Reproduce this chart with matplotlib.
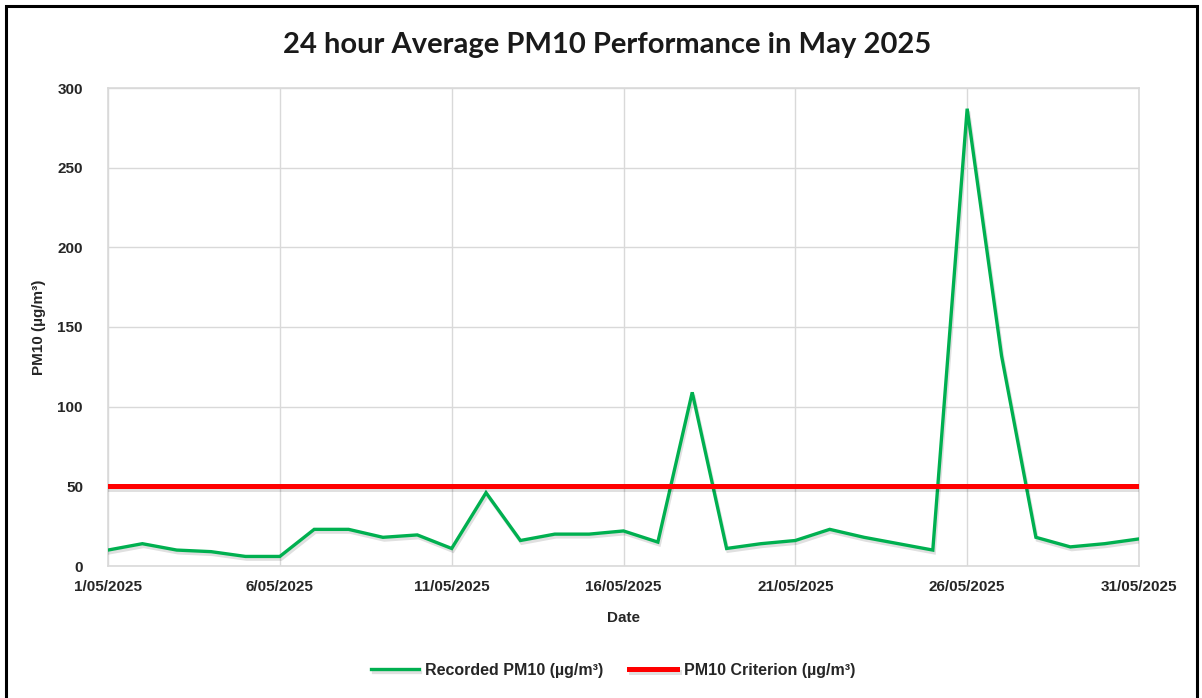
import numpy as np
from matplotlib import pyplot as plt
from matplotlib import dates as mdates
from matplotlib import patheffects as pe
from matplotlib.patches import Rectangle

days = list(range(1, 32))
recorded_pm10 = [10, 14, 10, 9, 6, 6, 23, 23, 18, 19.5, 11, 46, 16, 20, 20, 22,
                 15, 109, 11, 14, 16, 23, 18, 14, 10, 287, 132, 18, 12, 14, 17]
criterion = 50
tick_days = [1, 6, 11, 16, 21, 26, 31]

dates = np.array([np.datetime64(f'2025-05-{d:02d}') for d in days])
tick_dates = [np.datetime64(f'2025-05-{d:02d}') for d in tick_days]

plt.rcParams['font.family'] = ['Liberation Sans', 'DejaVu Sans']

fig = plt.figure(figsize=(12.02, 6.98), dpi=100)
ax = fig.add_axes([108 / 1202, 1 - 566 / 698, 1031 / 1202, 478 / 698])

shadow = [pe.SimpleLineShadow(offset=(1, -2), alpha=0.12, shadow_color='k'), pe.Normal()]
ax.plot(dates, recorded_pm10, color='#00B050', lw=2.4, solid_joinstyle='miter',
        label='Recorded PM10 (µg/m³)', path_effects=shadow, zorder=3)
ax.plot(dates, [criterion] * len(dates), color='#FF0000', lw=3.6,
        label='PM10 Criterion (µg/m³)', path_effects=shadow, zorder=4)

ax.set_xlim(dates[0], dates[-1])
ax.set_ylim(0, 300)
ax.set_yticks(np.arange(0, 301, 50))
ax.set_xticks(tick_dates)
ax.xaxis.set_major_formatter(mdates.DateFormatter('%-d/%m/%Y'))
ax.grid(True, color='#d9d9d9', lw=1)
ax.set_axisbelow(True)
for s in ax.spines.values():
    s.set_color('#d9d9d9')
    s.set_linewidth(1.2)
ax.tick_params(length=0, labelsize=11, colors='#262626', pad=10)
for lbl in ax.get_xticklabels() + ax.get_yticklabels():
    lbl.set_fontweight('bold')
ax.tick_params(axis='y', pad=18)

ax.set_xlabel('Date', fontsize=11, fontweight='bold', color='#262626', labelpad=12)
ax.set_ylabel('PM10 (µg/m³)', fontsize=11, fontweight='bold', color='#262626', labelpad=8)

fig.text(0.505, 1 - 45 / 698, '24 hour Average PM10 Performance in May 2025',
         ha='center', va='center', fontsize=21, fontweight='bold',
         family=['Lato', 'DejaVu Sans'], color='#1a1a1a')

fig.legend(loc='center', bbox_to_anchor=(0.51, 1 - 670 / 698), ncol=2, frameon=False,
           prop={'size': 11.5, 'weight': 'bold'}, handlelength=3, columnspacing=1.6,
           handletextpad=0.4, labelcolor='#262626')

fig.add_artist(Rectangle((6 / 1202, -0.02), 1191 / 1202, 1.02 - 6 / 698,
                         transform=fig.transFigure, fill=False, lw=2.2, ec='black'))

fig.savefig('out.png', dpi=100)
